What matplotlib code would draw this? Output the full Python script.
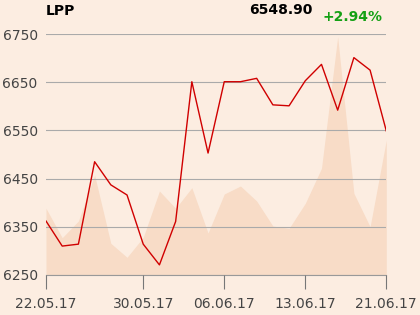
import matplotlib
matplotlib.use('Agg')
import matplotlib.pyplot as plt

# kurs LPP, sesje od 22.05.17 do 21.06.17 (bez 15.06)
dates = ['22.05.17', '23.05.17', '24.05.17', '25.05.17', '26.05.17', '29.05.17',
         '30.05.17', '31.05.17', '01.06.17', '02.06.17', '05.06.17', '06.06.17',
         '07.06.17', '08.06.17', '09.06.17', '12.06.17', '13.06.17', '14.06.17',
         '16.06.17', '19.06.17', '20.06.17', '21.06.17']
close = [6362, 6310, 6314, 6485, 6437, 6416, 6314, 6271, 6361, 6651, 6503,
         6651, 6651, 6658, 6603, 6601, 6653, 6687, 6592, 6701, 6675, 6548.9]
# wolumen (przyblizony)
volume = [6670, 3730, 5400, 10000, 3170, 1770, 3770, 8400, 6670, 8730, 4200,
          8100, 8900, 7400, 4900, 4670, 7170, 10670, 23830, 8170, 4830, 13500]
tick_labels = ['22.05.17', '30.05.17', '06.06.17', '13.06.17', '21.06.17']

title = 'LPP'
last_price = '6548.90'
change = '+2.94%'

bg = '#fcede1'
x = list(range(len(dates)))
tick_pos = [dates.index(t) for t in tick_labels]

fig = plt.figure(figsize=(4.2, 3.15), dpi=100, facecolor=bg)
ax = fig.add_axes([46 / 420, 40 / 315, 340.3 / 420, 241 / 315])
ax.set_facecolor(bg)

# wolumen na osi pomocniczej
ax2 = ax.twinx()
ax2.fill_between(x, volume, 0, color='#f8dcc7', linewidth=0)
ax2.set_ylim(0, 24100)
ax2.axis('off')
ax.set_zorder(ax2.get_zorder() + 1)
ax.patch.set_visible(False)
ax2.patch.set_visible(True)
ax2.patch.set_facecolor(bg)

ax.plot(x, close, color='#d00000', linewidth=1.0, zorder=3)

ax.set_xlim(0, len(dates) - 1)
ax.set_ylim(6250, 6750)
ax.set_yticks([6250, 6350, 6450, 6550, 6650, 6750])
ax.set_xticks(tick_pos)
ax.set_xticklabels(tick_labels)
ax.grid(axis='y', color='#aaaaaa', linewidth=0.8)
ax.set_axisbelow(False)

for s in ['left', 'right', 'top']:
    ax.spines[s].set_visible(False)
ax.spines['bottom'].set_color('#999999')
ax.tick_params(axis='y', length=0, pad=6, labelsize=10, labelcolor='#444444')
ax.tick_params(axis='x', length=10, width=0.8, color='#777777', pad=6,
               labelsize=10, labelcolor='#444444')

fig.text(46 / 420, 1 - 11 / 315, title, fontsize=10, fontweight='bold',
         ha='left', va='center', color='black')
fig.text(313 / 420, 1 - 10 / 315, last_price, fontsize=10, fontweight='bold',
         ha='right', va='center', color='black')
fig.text(322 / 420, 1 - 17 / 315, change, fontsize=10, fontweight='bold',
         ha='left', va='center', color='#14a014')

fig.savefig('out.png', dpi=100, facecolor=bg)
